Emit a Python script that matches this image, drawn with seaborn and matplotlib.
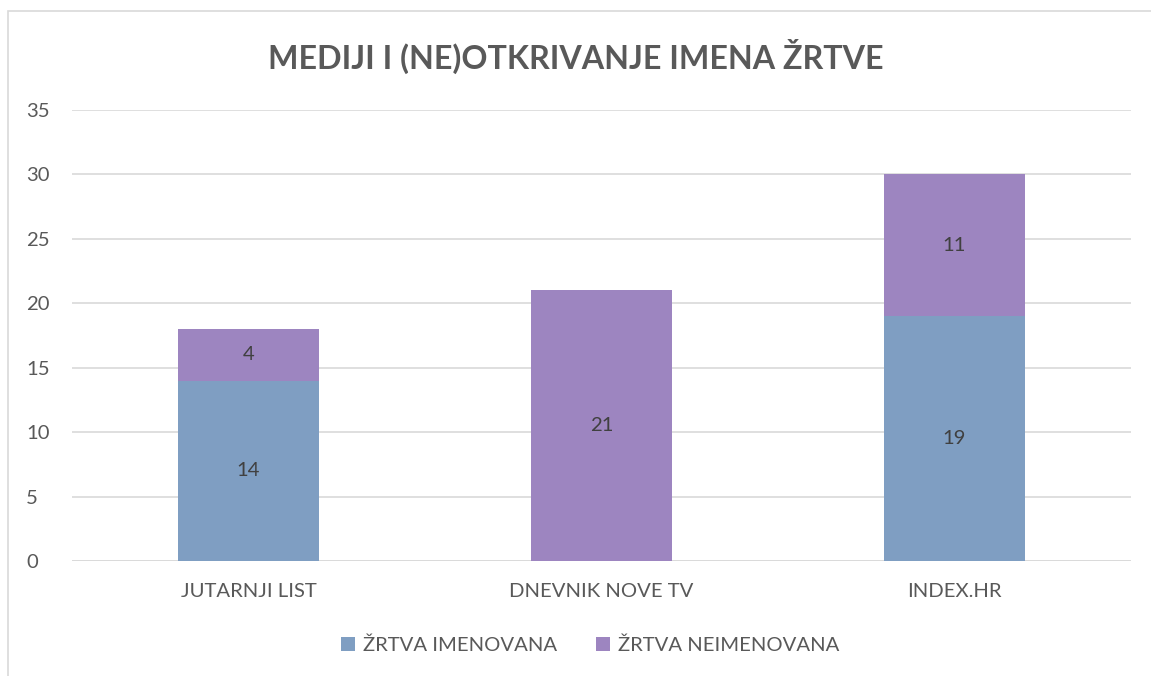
import matplotlib
matplotlib.use("Agg")
import matplotlib.pyplot as plt
import seaborn as sns
import pandas as pd
from matplotlib.patches import Rectangle, Patch

categories = ["JUTARNJI LIST", "DNEVNIK NOVE TV", "INDEX.HR"]
imenovana = [14, 0, 19]
neimenovana = [4, 21, 11]
series_names = ["ŽRTVA IMENOVANA", "ŽRTVA NEIMENOVANA"]
yticks = [0, 5, 10, 15, 20, 25, 30, 35]
title = "MEDIJI I (NE)OTKRIVANJE IMENA ŽRTVE"

BLUE = "#7F9EC2"
PURPLE = "#9D85C0"
TEXT = "#595959"
GRID = "#D9D9D9"
FS = 14.6

sns.set_theme(style="white")
plt.rcParams["font.family"] = ["Lato", "DejaVu Sans"]

df = pd.DataFrame({"cat": categories, "imen": imenovana, "neimen": neimenovana})
df["total"] = df["imen"] + df["neimen"]

fig = plt.figure(figsize=(11.51, 6.76), dpi=100)
ax = fig.add_axes([72 / 1151, 1 - 561 / 676, (1131 - 72) / 1151, (561 - 110) / 676])

sns.barplot(data=df, x="cat", y="total", color=PURPLE, saturation=1, width=0.4, ax=ax,
            zorder=2, linewidth=0)
sns.barplot(data=df, x="cat", y="imen", color=BLUE, saturation=1, width=0.4, ax=ax,
            zorder=3, linewidth=0)

for i, (a, b) in enumerate(zip(imenovana, neimenovana)):
    if a > 0:
        ax.text(i, a / 2, str(a), ha="center", va="center", fontsize=FS, color="#404040", zorder=4)
    if b > 0:
        ax.text(i, a + b / 2, str(b), ha="center", va="center", fontsize=FS, color="#404040", zorder=4)

ax.set_ylim(0, 35)
ax.set_xlim(-0.5, 2.5)
ax.set_yticks(yticks)
ax.set_yticklabels([str(t) for t in yticks], fontsize=FS, color=TEXT)
ax.tick_params(axis="x", labelsize=FS, labelcolor=TEXT, length=0, pad=16)
ax.tick_params(axis="y", length=0, pad=33)
for lbl in ax.get_yticklabels():
    lbl.set_horizontalalignment("left")
ax.set_xlabel("")
ax.set_ylabel("")
ax.yaxis.grid(True, color=GRID, linewidth=1.2, zorder=0)
ax.set_axisbelow(True)
for s in ax.spines.values():
    s.set_visible(False)
ax.axhline(0, color=GRID, linewidth=1.2, zorder=1)

fig.text(0.5, 1 - 56 / 676, title, ha="center", va="center", fontsize=23.2,
         fontweight="bold", color=TEXT)

handles = [Patch(facecolor=BLUE, edgecolor="none"), Patch(facecolor=PURPLE, edgecolor="none")]
fig.legend(handles, series_names, loc="center", bbox_to_anchor=(590 / 1151, 1 - 645 / 676),
           ncol=2, frameon=False, fontsize=FS, labelcolor=TEXT, handlelength=0.7,
           handleheight=0.7, handletextpad=0.4, columnspacing=1.9)

fig.patches.append(Rectangle((8 / 1151, -0.05), 1.2, 1 - 11 / 676 + 0.05, transform=fig.transFigure,
                             fill=False, edgecolor="#D9D9D9", linewidth=1.2))

fig.savefig("out.png", dpi=100)
